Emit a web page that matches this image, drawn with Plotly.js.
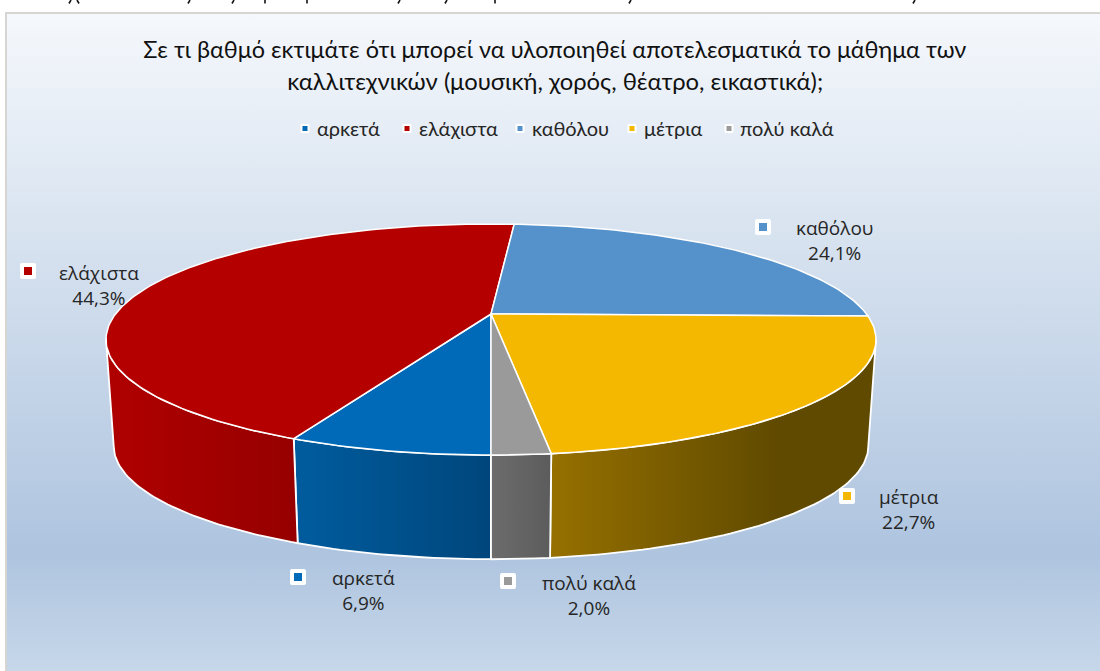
<!DOCTYPE html>
<html><head><meta charset="utf-8">
<script src="https://cdn.plot.ly/plotly-3.0.1.min.js"></script>
<style>
html,body{margin:0;padding:0;background:#fff;overflow:hidden}
#frame{position:absolute;left:5px;top:12px;width:1095px;height:659px;box-sizing:border-box;border-left:2px solid #d6d5d2;border-top:2px solid #d6d5d2;
background:linear-gradient(180deg,#f5f8fc 0%,#dbe5f1 30%,#aec4df 82%,#c6d7e9 100%)}
#chart{position:absolute;left:0;top:0;width:1100px;height:671px}
.scatterlayer .point,.legendpoints path{stroke-linejoin:round}
</style></head><body>
<div id="frame"></div>
<div id="chart"></div>
<script>
const titleLines = ["Σε τι βαθμό εκτιμάτε ότι μπορεί να υλοποιηθεί αποτελεσματικά το μάθημα των","καλλιτεχνικών (μουσική, χορός, θέατρο, εικαστικά);"];
const titleWidths = [823,536];
const categories = ["αρκετά","ελάχιστα","καθόλου","μέτρια","πολύ καλά"];
const values = [6.9,44.3,24.1,22.7,2.0];
const valueLabels = ["6,9%","44,3%","24,1%","22,7%","2,0%"];
const topColors = ["#0069B8","#B50000","#5592CB","#F4B800","#9A9A9A"];
const wallGradients = [
  [[0,"#005C9E"],[1,"#00467C"]],
  [[0,"#B00000"],[1,"#960000"]],
  [[0,"#5592CB"],[1,"#5592CB"]],
  [[0,"#967000"],[0.7,"#604A00"],[1,"#604A00"]],
  [[0,"#6C6C6C"],[1,"#5C5C5C"]]
];
const markerPos = [[298,577],[28,271],[763,227],[847,496],[508,581]];
const labelPos = [[363,590],[99,285],[834,240],[909,509],[589,595]];
const legendSwatchX = [305,407,520,632,729];
const legendTextX = [317,419,532,644,740];
/* descender stubs of a line of text cropped off above the chart: [x, lean] */
const croppedStubs = [[71,-2],[77,2],[190,-2],[234,-2],[265,0],[307,0],[400,-2],[447,-2],[495,0],[631,-2],[915,-2]];

/* pie projection, in the pixel-unit axes */
const cx=491, cy=314, A=375.5, B=109.9, K=0.2208, S=0.98, CYB=421;
function pt(deg,top){
  const r=deg*Math.PI/180,u=Math.sin(r),v=-Math.cos(r),d=1-K*v,s=top?1:S;
  return [cx+s*A*u/d,(top?cy:CYB)+s*B*v/d];
}
const LEFT=180+Math.asin(Math.sqrt(1-K*K))*180/Math.PI, RIGHT=540-(LEFT-180);
const total=values.reduce((a,b)=>a+b,0);
const traces=[];
let ang=180;
const spans=values.map(v=>{const s=ang;ang+=v/total*360;return [s,ang];});
function arc(a,b,top){const n=Math.max(2,Math.ceil(Math.abs(b-a)));const o=[];for(let i=0;i<=n;i++)o.push(pt(a+(b-a)*i/n,top));return o;}
/* walls: only the front part of the cylinder is seen */
categories.forEach((c,i)=>{
  [[180,LEFT],[RIGHT,540]].forEach(w=>{
    const a=Math.max(spans[i][0],w[0]),b=Math.min(spans[i][1],w[1]);
    if(b<=a) return;
    const p=arc(a,b,true).concat(arc(b,a,false));p.push(p[0]);
    traces.push({type:"scatter",mode:"lines",x:p.map(q=>q[0]),y:p.map(q=>q[1]),fill:"toself",
      fillgradient:{type:"horizontal",colorscale:wallGradients[i]},line:{color:"#fff",width:1.8},showlegend:false,hoverinfo:"skip"});
  });
});
/* top slices */
categories.forEach((c,i)=>{
  const p=[[cx,cy]].concat(arc(spans[i][0],spans[i][1],true));p.push([cx,cy]);
  traces.push({type:"scatter",mode:"lines",x:p.map(q=>q[0]),y:p.map(q=>q[1]),fill:"toself",fillcolor:topColors[i],
    line:{color:"#fff",width:1.5},showlegend:false,name:c,text:c+" "+valueLabels[i],hoverinfo:"text",hoveron:"fills"});
});
/* label markers */
categories.forEach((c,i)=>{
  traces.push({type:"scatter",mode:"markers",x:[markerPos[i][0]],y:[markerPos[i][1]],showlegend:false,hoverinfo:"skip",
    marker:{symbol:"square",size:12,color:topColors[i],line:{color:"#fff",width:4}}});
});
/* legend entries */
categories.forEach((c,i)=>{
  traces.push({type:"scatter",mode:"markers",x:[null],y:[null],name:c,showlegend:true,
    marker:{symbol:"square",size:7,color:topColors[i],line:{color:"#fff",width:2}}});
});
const titleFont="Lato,'Open Sans',sans-serif";
const ann=[{y:48,text:titleLines[0]},{y:80,text:titleLines[1]}].map(t=>({
  x:555,y:t.y,xref:"x",yref:"y",text:t.text,showarrow:false,xanchor:"center",yanchor:"middle",
  font:{family:titleFont,size:24,color:"#111"}}));
categories.forEach((c,i)=>{
  ann.push({x:labelPos[i][0],y:labelPos[i][1],xref:"x",yref:"y",text:c+"<br>"+valueLabels[i],showarrow:false,align:"center",
    font:{family:"'Open Sans',sans-serif",size:19,color:"#262626"}});
});
const shapes=croppedStubs.map(s=>({type:"line",xref:"x",yref:"y",x0:s[0]+s[1]*0,y0:0,x1:s[0]+s[1],y1:3.5,line:{color:"#111",width:1.6}}));
const layout={width:1100,height:671,margin:{l:0,r:0,t:0,b:0},paper_bgcolor:"rgba(0,0,0,0)",plot_bgcolor:"rgba(0,0,0,0)",
  xaxis:{range:[0,1100],visible:false,fixedrange:true},
  yaxis:{range:[671,0],visible:false,fixedrange:true},
  annotations:ann,shapes:shapes,
  legend:{orientation:"h",x:0.5,xanchor:"center",y:0.8085,yanchor:"middle",bgcolor:"rgba(0,0,0,0)",
    font:{family:titleFont,size:20,color:"#262626"},traceorder:"normal"}};
Plotly.newPlot("chart",traces,layout,{displayModeBar:false}).then(gd=>{
  /* fit the title lines to the condensed width of the original */
  gd.querySelectorAll(".annotation text").forEach(t=>{
    const i=titleLines.indexOf(t.textContent);
    if(i>=0){t.setAttribute("textLength",titleWidths[i]);t.setAttribute("lengthAdjust","spacingAndGlyphs");}
  });
  /* place native legend entries at the reference spacing */
  gd.querySelectorAll(".legend .traces").forEach((it,i)=>{
    const t=it.querySelector("text"), sym=it.querySelector(".legendpoints");
    const m=(it.getAttribute("transform")||"").match(/translate\(([-\d.]+)[ ,]+([-\d.]+)\)/);
    if(!m) return;
    const dx=legendTextX[i]-t.getBoundingClientRect().left;
    it.setAttribute("transform","translate("+(parseFloat(m[1])+dx)+","+m[2]+")");
    const r=it.querySelector(".legendpoints path").getBoundingClientRect();
    sym.setAttribute("transform","translate("+(legendSwatchX[i]-(r.left+r.width/2))+",0)");
  });
});
</script></body></html>
